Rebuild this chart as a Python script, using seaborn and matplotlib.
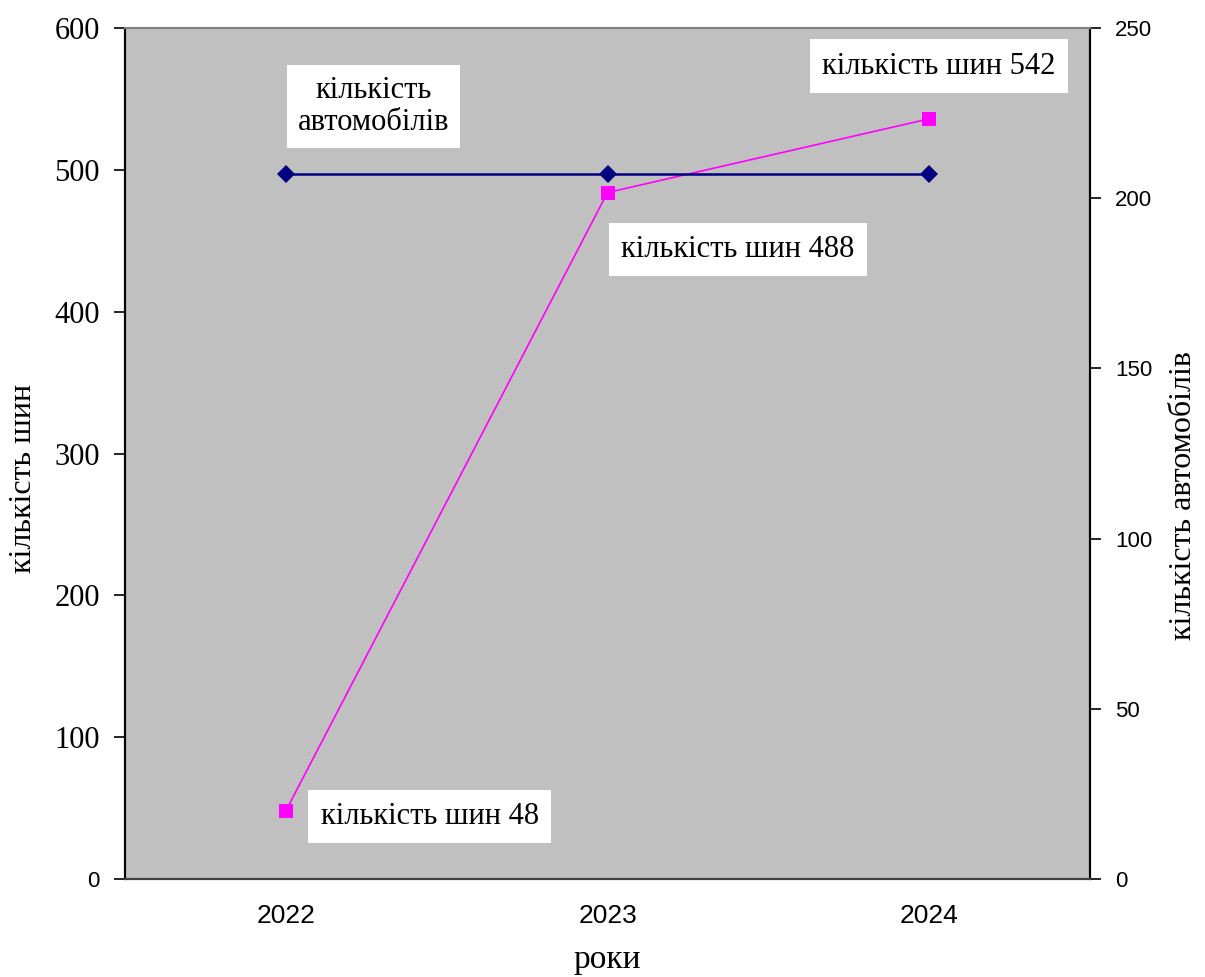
import matplotlib
matplotlib.use("Agg")
import matplotlib.pyplot as plt
import seaborn as sns
import pandas as pd
from matplotlib.ticker import FixedLocator

sns.set_theme(style="white")
plt.rcParams['font.family'] = ['Liberation Serif', 'DejaVu Serif']
plt.rcParams.update({"text.color": "black", "axes.labelcolor": "black",
                     "xtick.color": "black", "ytick.color": "black"})

# ---- data ----
years = ["2022", "2023", "2024"]
tyres = [48, 484, 536]            # кількість шин (left axis)
tyre_labels = [48, 488, 542]      # values written in the data labels
cars = [207, 207, 207]            # кількість автомобілів (right axis)
left_ticks = [0, 100, 200, 300, 400, 500, 600]
right_ticks = [0, 50, 100, 150, 200, 250]

df = pd.DataFrame({"x": range(len(years)), "year": years, "tyres": tyres, "cars": cars})

fig = plt.figure(figsize=(12.05, 9.77), dpi=100)
ax = fig.add_axes([0.1037, 0.1003, 0.8009, 0.8710])
ax.set_facecolor("#C0C0C0")

sns.lineplot(data=df, x="x", y="tyres", ax=ax, color="#FF00FF", lw=1.2,
             marker="s", markersize=10, markeredgewidth=0, zorder=5)

ax2 = ax.twinx()
ax2.patch.set_visible(False)
sns.lineplot(data=df, x="x", y="cars", ax=ax2, color="#000080", lw=1.8,
             marker="D", markersize=9, markeredgewidth=0, zorder=4)

ax.set_xlim(-0.5, len(years) - 0.5)
ax.set_ylim(0, 600)
ax2.set_ylim(0, 250)

# x ticks: labels at categories, tick marks at category boundaries
ax.set_xticks(range(len(years)))
ax.set_xticklabels(years, family="Liberation Sans", fontsize=19)
ax.tick_params(axis="x", which="major", length=0, pad=18)
ax.xaxis.set_minor_locator(FixedLocator([i - 0.5 for i in range(len(years) + 1)]))
ax.tick_params(axis="x", which="minor", length=8, width=1.2, color="black", direction="out")

ax.set_yticks(left_ticks)
ax.set_yticklabels([str(t) for t in left_ticks], fontsize=22)
ax.get_yticklabels()[0].set_family("Liberation Sans")
ax.get_yticklabels()[0].set_fontsize(16)
ax.tick_params(axis="y", length=8, width=1.2, color="black", direction="out", pad=10)

ax2.set_yticks(right_ticks)
ax2.set_yticklabels([str(t) for t in right_ticks], family="Liberation Sans", fontsize=16)
ax2.tick_params(axis="y", length=8, width=1.2, color="black", direction="out", pad=10)

for a in (ax, ax2):
    a.spines["top"].set_color("#808080")
    a.spines["left"].set_color("black")
    a.spines["right"].set_color("black")
    a.spines["bottom"].set_color("#404040")
    for s in a.spines.values():
        s.set_linewidth(1.5)
ax.spines["top"].set_linewidth(1.2)

ax.set_xlabel("роки", fontsize=24, labelpad=12)
ax.set_ylabel("кількість шин", fontsize=23)
ax.yaxis.set_label_coords(-0.090, 0.471)
ax2.set_ylabel("кількість автомобілів", fontsize=23)
ax2.yaxis.set_label_coords(1.0816, 0.451)

box = dict(facecolor="white", edgecolor="none", boxstyle="square,pad=0.4")
fs = 22
offsets = [((25, -4), "left"), ((10, -41), "left"), ((-77, 38), "left")]
for i, (off, ha) in enumerate(offsets):
    ax.annotate(f"кількість шин {tyre_labels[i]}", xy=(i, tyres[i]), xytext=off,
                textcoords="offset points", ha=ha, va="center", fontsize=fs,
                bbox=box, zorder=10)

ax2.annotate("кількість\nавтомобілів", xy=(0, cars[0]), xytext=(63, 49),
             textcoords="offset points", ha="center", va="center", fontsize=fs,
             linespacing=1.15, bbox=dict(facecolor="white", edgecolor="none",
                                          boxstyle="square,pad=0.35"), zorder=10)

fig.savefig("out.png", dpi=100)
